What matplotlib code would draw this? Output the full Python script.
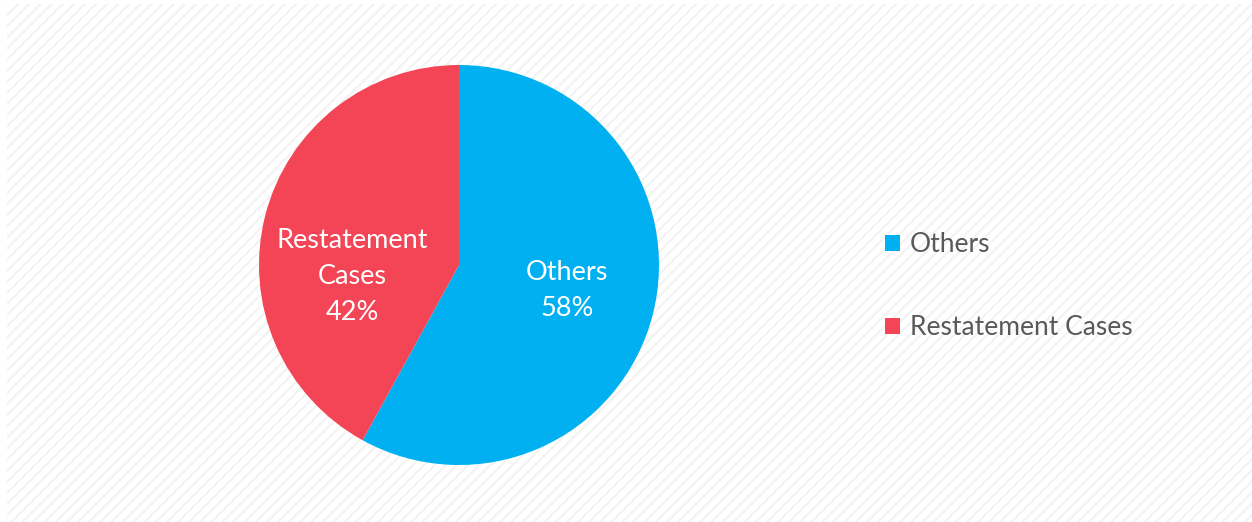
import matplotlib
matplotlib.use('Agg')
import matplotlib.pyplot as plt
from matplotlib.patches import Rectangle

labels = ['Others', 'Restatement Cases']
pie_labels = ['Others\n58%', 'Restatement\nCases\n42%']
values = [58, 42]
colors = ['#00B0F0', '#F34556']

plt.rcParams['font.family'] = ['Lato', 'DejaVu Sans']
plt.rcParams['hatch.linewidth'] = 1.6
plt.rcParams['hatch.color'] = '#F3F3F3'

fig = plt.figure(figsize=(12.52, 5.22), dpi=100)
fig.patches.append(Rectangle((7 / 1252, 0), 1, 1 - 4 / 522, transform=fig.transFigure,
                             facecolor='white', edgecolor='#F3F3F3', hatch='///',
                             linewidth=0, zorder=-10))

# pie: centre (459, 265), radius 200 px
ax = fig.add_axes([259 / 1252, (522 - 465) / 522, 400 / 1252, 400 / 522])
ax.set_zorder(5)
wedges, texts = ax.pie(values, colors=colors, startangle=90, counterclock=False,
                       wedgeprops=dict(linewidth=0))
ax.set_aspect('equal')
ax.set_xlim(-1, 1)
ax.set_ylim(-1, 1)
ax.axis('off')

# label positions inside slices (data coords, radius 1 = 200 px)
ax.text((567 - 459) / 200, -(291 - 265) / 200, pie_labels[0], color='white', fontsize=19.5,
        ha='center', va='center', linespacing=1.55)
ax.text((352 - 459) / 200, -(277 - 265) / 200, pie_labels[1], color='white', fontsize=19.5,
        ha='center', va='center', linespacing=1.55)

leg = fig.legend(wedges, labels, loc='center left', bbox_to_anchor=(885 / 1252, 1 - 286 / 522),
                 frameon=False, fontsize=19, labelcolor='#595959', handlelength=0.55,
                 handleheight=0.55, handletextpad=0.4, labelspacing=2.2,
                 borderpad=0, borderaxespad=0)

fig.savefig('out.png', dpi=100)
